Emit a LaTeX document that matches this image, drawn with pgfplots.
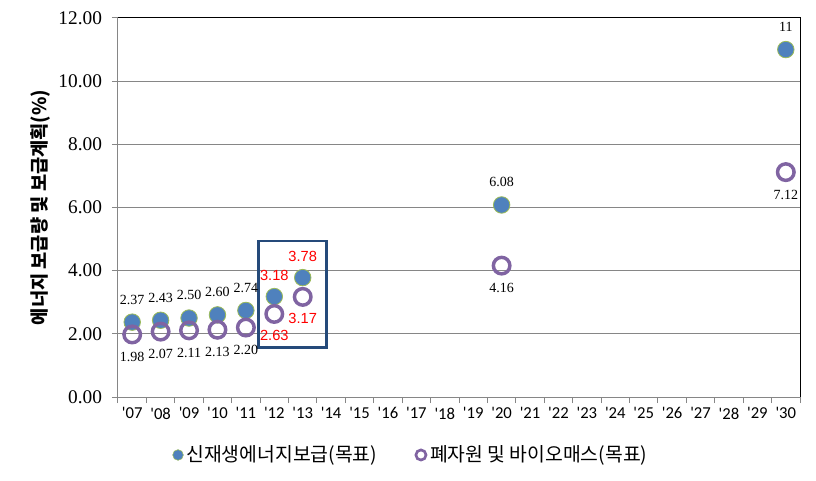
\documentclass[border=0pt]{standalone}
\usepackage{fontspec}
\usepackage{pgfplots}
\pgfplotsset{compat=1.18}
\setmainfont{Liberation Serif}
\newfontfamily\kr{Noto Sans CJK KR}
\newfontfamily\tickfont{Carlito}
\newfontfamily\sansnum{Liberation Sans}
\definecolor{sblue}{HTML}{4F81BD}
\definecolor{spurple}{HTML}{8064A2}
\definecolor{sgreen}{HTML}{9BBB59}
\definecolor{gridgray}{HTML}{868686}
\definecolor{boxblue}{HTML}{254A7A}
\begin{document}
\begin{tikzpicture}
\useasboundingbox (-88.5pt,-63pt) rectangle (523.5pt,297.75pt);
\begin{axis}[
  at={(0,0)}, anchor=south west,
  scale only axis, width=511.5pt, height=284.25pt,
  xmin=6.5, xmax=30.5, ymin=0, ymax=12,
  clip=false,
  axis lines=left, axis line style={gridgray, line width=0.75pt, -},
  ytick={0,2,...,12}, ymajorgrids, grid style={gridgray, line width=0.75pt},
  xtick={7,...,30},
  xticklabels={'07,'08,'09,'10,'11,'12,'13,'14,'15,'16,'17,'18,'19,'20,'21,'22,'23,'24,'25,'26,'27,'28,'29,'30},
  minor xtick={6.5,7.5,...,30.5},
  major x tick style={draw=none},
  minor x tick style={gridgray, line width=0.75pt},
  y tick style={gridgray, line width=0.75pt},
  tick align=outside, major tick length=4.5pt, minor tick length=4.5pt,
  yticklabel style={font=\fontsize{14.5}{14.5}\selectfont, xshift=-4pt},
  xticklabel style={font=\tickfont\fontsize{12.5}{12.5}\selectfont, yshift=0pt},
  /pgf/number format/.cd, fixed, fixed zerofill, precision=2, assume math mode=true,
  /pgfplots/.cd,
  ylabel={\kr\bfseries 에너지 보급량 및 보급계획(\%)},
  ylabel style={at={(axis description cs:-0.114,0.5)}, anchor=center, font=\fontsize{14}{14}\selectfont},
  legend style={at={(0.43,-0.153)}, anchor=center, draw=none, fill=none, legend columns=2,
    font=\kr\fontsize{14.5}{15}\selectfont,
    /tikz/every even column/.append style={column sep=26pt}},
  legend cell align=left,
]
\draw[black, line width=0.75pt] (rel axis cs:0,1) -- (rel axis cs:1,1) -- (rel axis cs:1,0);
\draw[boxblue, line width=2.2pt] (axis cs:11.44,1.58) rectangle (axis cs:13.83,4.94);

\addplot[only marks, mark=*, mark size=6.2pt,
  mark options={fill=sblue, draw=sgreen, line width=0.6pt},
  point meta=explicit symbolic, nodes near coords={\pgfplotspointmeta},
  every node near coord/.append style={anchor=center, yshift=17pt, font=\fontsize{10.5}{10.5}\selectfont, text=black},
  legend image code/.code={\fill[sblue, draw=sgreen, line width=0.4pt] (0.15cm,0) circle (4pt);}]
  coordinates {(7,2.37)[2.37] (8,2.43)[2.43] (9,2.50)[2.50] (10,2.60)[2.60] (11,2.74)[2.74] (20,6.08)[6.08] (30,11)[11]};
\addlegendentry{신재생에너지보급(목표)}
\addplot[forget plot, only marks, mark=*, mark size=6.2pt,
  mark options={fill=sblue, draw=sgreen, line width=0.6pt},
  point meta=explicit symbolic, nodes near coords={\pgfplotspointmeta},
  every node near coord/.append style={anchor=center, yshift=16pt, font=\sansnum\fontsize{11}{11}\selectfont, text=red}]
  coordinates {(12,3.18)[3.18] (13,3.78)[3.78]};

\addplot[only marks, mark=o, mark size=6.2pt,
  mark options={draw=spurple, fill=white, line width=2.6pt},
  point meta=explicit symbolic, nodes near coords={\pgfplotspointmeta},
  every node near coord/.append style={anchor=center, yshift=-17pt, font=\fontsize{10.5}{10.5}\selectfont, text=black},
  legend image code/.code={\draw[spurple, fill=white, line width=2pt] (0.15cm,0) circle (3.8pt);}]
  coordinates {(7,1.98)[1.98] (8,2.07)[2.07] (9,2.11)[2.11] (10,2.13)[2.13] (11,2.20)[2.20] (20,4.16)[4.16] (30,7.12)[7.12]};
\addlegendentry{폐자원 및 바이오매스(목표)}
\addplot[forget plot, only marks, mark=o, mark size=6.2pt,
  mark options={draw=spurple, fill=white, line width=2.6pt},
  point meta=explicit symbolic, nodes near coords={\pgfplotspointmeta},
  every node near coord/.append style={anchor=center, yshift=-16pt, font=\sansnum\fontsize{11}{11}\selectfont, text=red}]
  coordinates {(12,2.63)[2.63] (13,3.17)[3.17]};
\end{axis}
\end{tikzpicture}
\end{document}
